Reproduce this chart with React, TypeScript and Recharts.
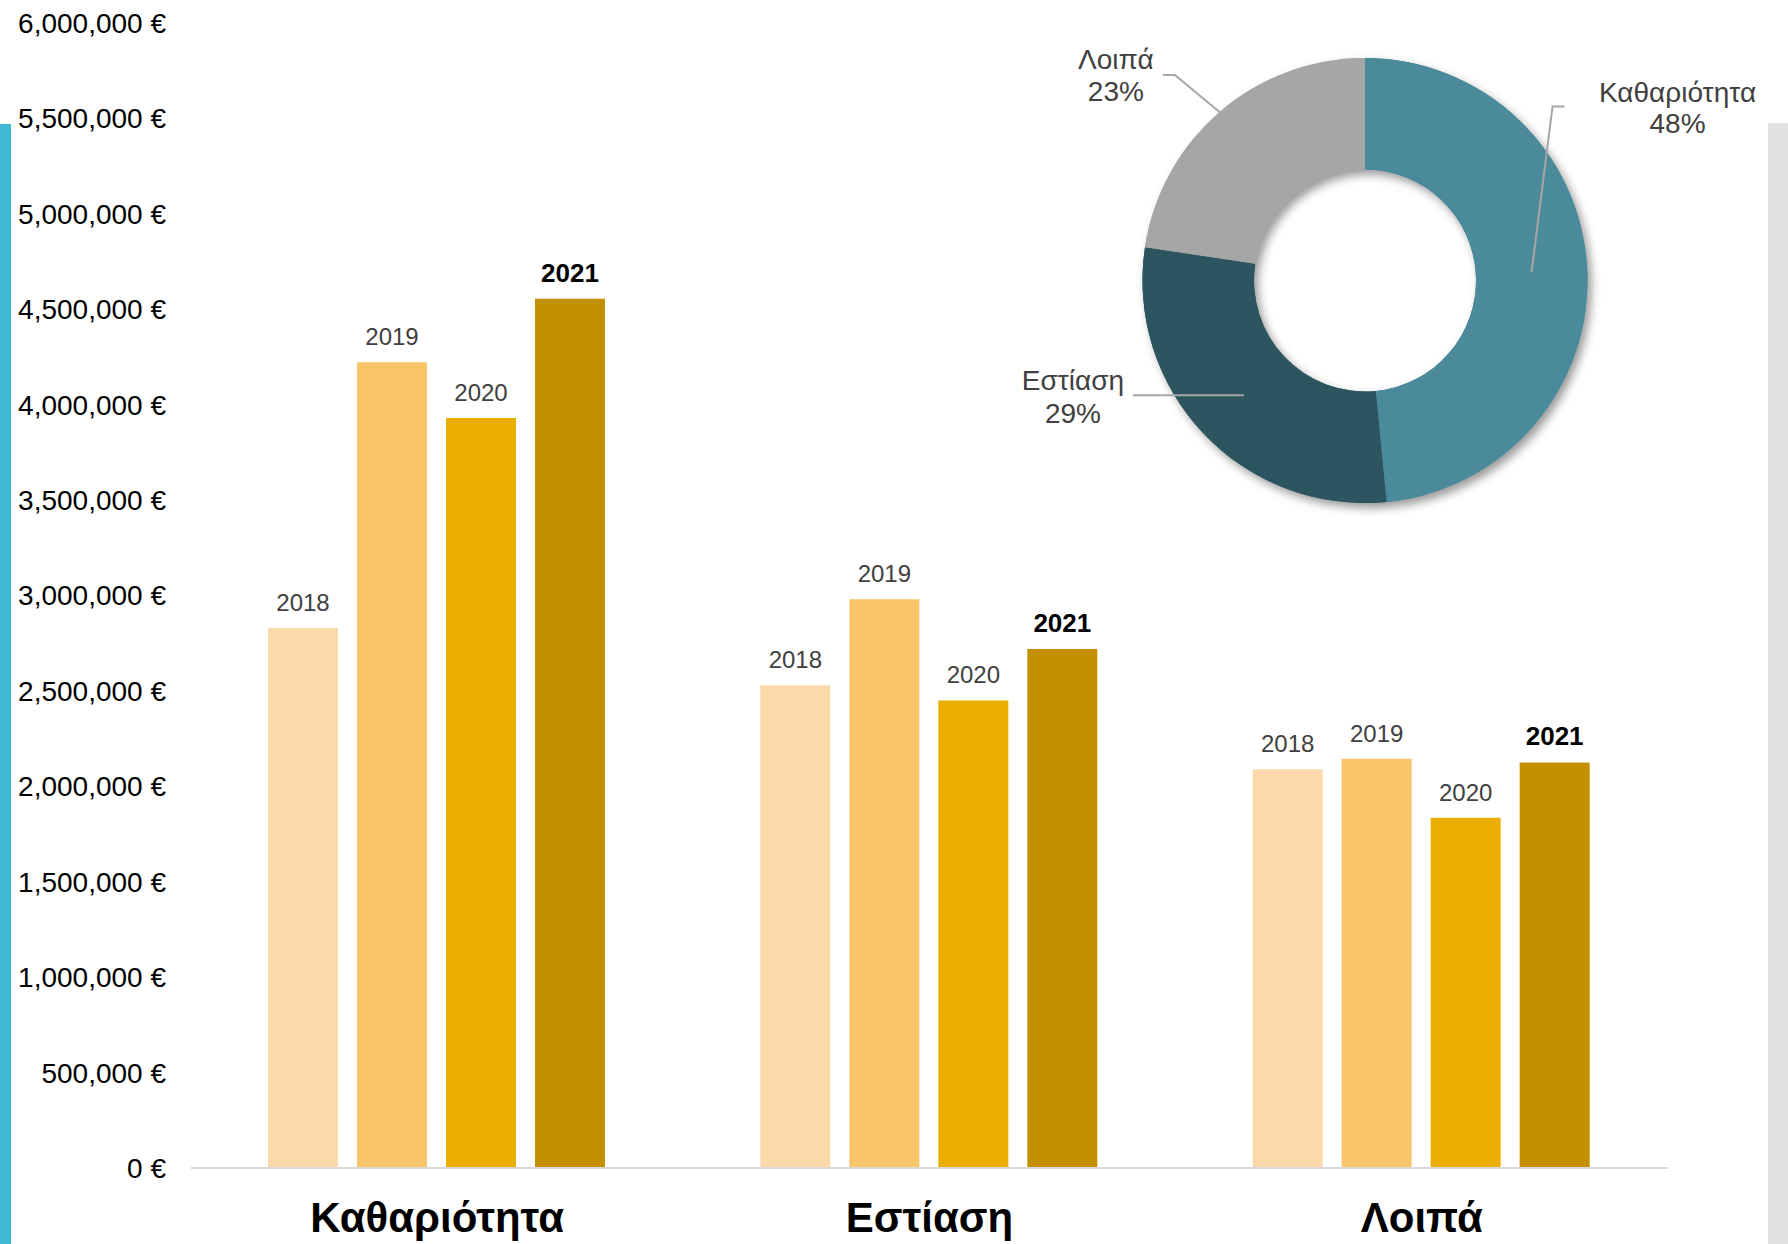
import React from 'react';
import { BarChart, Bar, XAxis, YAxis, LabelList, PieChart, Pie, Cell } from 'recharts';

// ---------- data ----------
const categories = ['Καθαριότητα', 'Εστίαση', 'Λοιπά'];
const years = ['2018', '2019', '2020', '2021'];
const values2018 = [2830000, 2530000, 2090000];
const values2019 = [4222000, 2980000, 2145000];
const values2020 = [3930000, 2450000, 1835000];
const values2021 = [4555000, 2720000, 2125000];
const yTicks = [0, 500000, 1000000, 1500000, 2000000, 2500000, 3000000, 3500000, 4000000, 4500000, 5000000, 5500000, 6000000];

// ---------- styles ----------
const barColors = ['#FBD9AB', '#F9C56B', '#EAAE00', '#C49000'];
const pieColors = ['#4A8A9A', '#2D5560', '#A6A6A6'];
const FONT = '"Liberation Sans", Arial, sans-serif';

const seriesValues = [values2018, values2019, values2020, values2021];
const barData = categories.map((c, i) => {
  const row: any = { category: c };
  years.forEach((y, k) => {
    row['y' + y] = seriesValues[k][i];
  });
  return row;
});
const pieData = categories.map((c, i) => ({ name: c, value: values2021[i] }));

const fmtEuro = (v: number) => `${v.toLocaleString('en-US')} €`;

const CategoryTick = (props: any) => {
  const { x, y, payload } = props;
  return (
    <text x={x} y={y} dy="0.71em" textAnchor="middle" fontSize={42} fontWeight="bold" fill="#000" fontFamily={FONT}>
      {payload.value}
    </text>
  );
};

// label layout (offsets relative to anchor point on the ring)
const labelLayout = [
  { radius: 'mid', pts: [[21, -166], [33, -166]], text: [146, -180, -149] },
  { radius: 'mid', pts: [[-111, 0]], text: [-171, -15, 18] },
  { radius: 'outer', pts: [[-47, -39], [-59, -39]], text: [-106, -55, -23] },
];

const RAD = Math.PI / 180;
const PieLabel = (props: any) => {
  const { cx, cy, midAngle, innerRadius, outerRadius, name, percent, index } = props;
  const lay = labelLayout[index];
  const r = lay.radius === 'mid' ? (innerRadius + outerRadius) / 2 : outerRadius - 3;
  const ax = cx + r * Math.cos(-midAngle * RAD);
  const ay = cy + r * Math.sin(-midAngle * RAD);
  const pts = [[ax, ay], ...lay.pts.map((p: number[]) => [ax + p[0], ay + p[1]])];
  const tx = ax + lay.text[0];
  return (
    <g>
      <polyline points={pts.map((p) => p.join(',')).join(' ')} fill="none" stroke="#A6A6A6" strokeWidth={2} />
      <text x={tx} y={ay + lay.text[1]} dy="0.355em" textAnchor="middle" fontSize={28} fill="#404040" fontFamily={FONT}>
        {name}
      </text>
      <text x={tx} y={ay + lay.text[2]} dy="0.355em" textAnchor="middle" fontSize={28} fill="#404040" fontFamily={FONT}>
        {`${Math.round(percent * 100)}%`}
      </text>
    </g>
  );
};

const Donut = ({ withLabels }: { withLabels: boolean }) => (
  <PieChart width={888} height={560} margin={{ top: 0, right: 0, bottom: 0, left: 0 }}>
    <Pie
      data={pieData}
      dataKey="value"
      nameKey="name"
      cx={465}
      cy={280.5}
      innerRadius={111}
      outerRadius={222.5}
      startAngle={90}
      endAngle={-270}
      stroke="none"
      labelLine={false}
      label={withLabels ? PieLabel : false}
      isAnimationActive={false}
    >
      {pieData.map((d, i) => (
        <Cell key={d.name} fill={pieColors[i]} />
      ))}
    </Pie>
  </PieChart>
);

export default function App() {
  return (
    <div style={{ position: 'absolute', left: 0, top: 0, width: 1788, height: 1244, background: '#fff', fontFamily: FONT, overflow: 'hidden' }}>
      <div style={{ position: 'absolute', left: 0, top: 124, width: 11, height: 1120, background: '#40B9D4' }} />
      <div style={{ position: 'absolute', left: 1768, top: 123, width: 20, height: 1121, background: '#E2E2E2' }} />
      <div style={{ position: 'absolute', left: 0, top: 0 }}>
        <BarChart
          width={1788}
          height={1244}
          data={barData}
          margin={{ top: 23, right: 120, bottom: 0, left: 0 }}
          barCategoryGap={77}
          barGap={19}
        >
          <XAxis
            dataKey="category"
            height={76}
            tickLine={false}
            tickSize={0}
            tickMargin={34}
            axisLine={{ stroke: '#D9D9D9', strokeWidth: 2 }}
            tick={<CategoryTick />}
            interval={0}
          />
          <YAxis
            width={191}
            domain={[0, 6000000]}
            ticks={yTicks}
            interval={0}
            axisLine={false}
            tickLine={false}
            tickSize={0}
            tickMargin={25}
            tickFormatter={fmtEuro}
            tick={{ fontSize: 28, fill: '#000', fontFamily: FONT }}
          />
          {years.map((y, k) => (
            <Bar key={y} dataKey={'y' + y} fill={barColors[k]} isAnimationActive={false}>
              <LabelList
                dataKey={'y' + y}
                position="top"
                offset={17}
                formatter={() => y}
                fill={k === 3 ? '#000' : '#404040'}
                fontSize={k === 3 ? 26 : 24}
                fontWeight={k === 3 ? 'bold' : 'normal'}
                fontFamily={FONT}
              />
            </Bar>
          ))}
        </BarChart>
      </div>
      <div style={{ position: 'absolute', left: 900, top: 0, filter: 'drop-shadow(4px 5px 5px rgba(0,0,0,0.4))' }}>
        <Donut withLabels={false} />
      </div>
      <div style={{ position: 'absolute', left: 900, top: 0 }}>
        <Donut withLabels={true} />
      </div>
    </div>
  );
}
